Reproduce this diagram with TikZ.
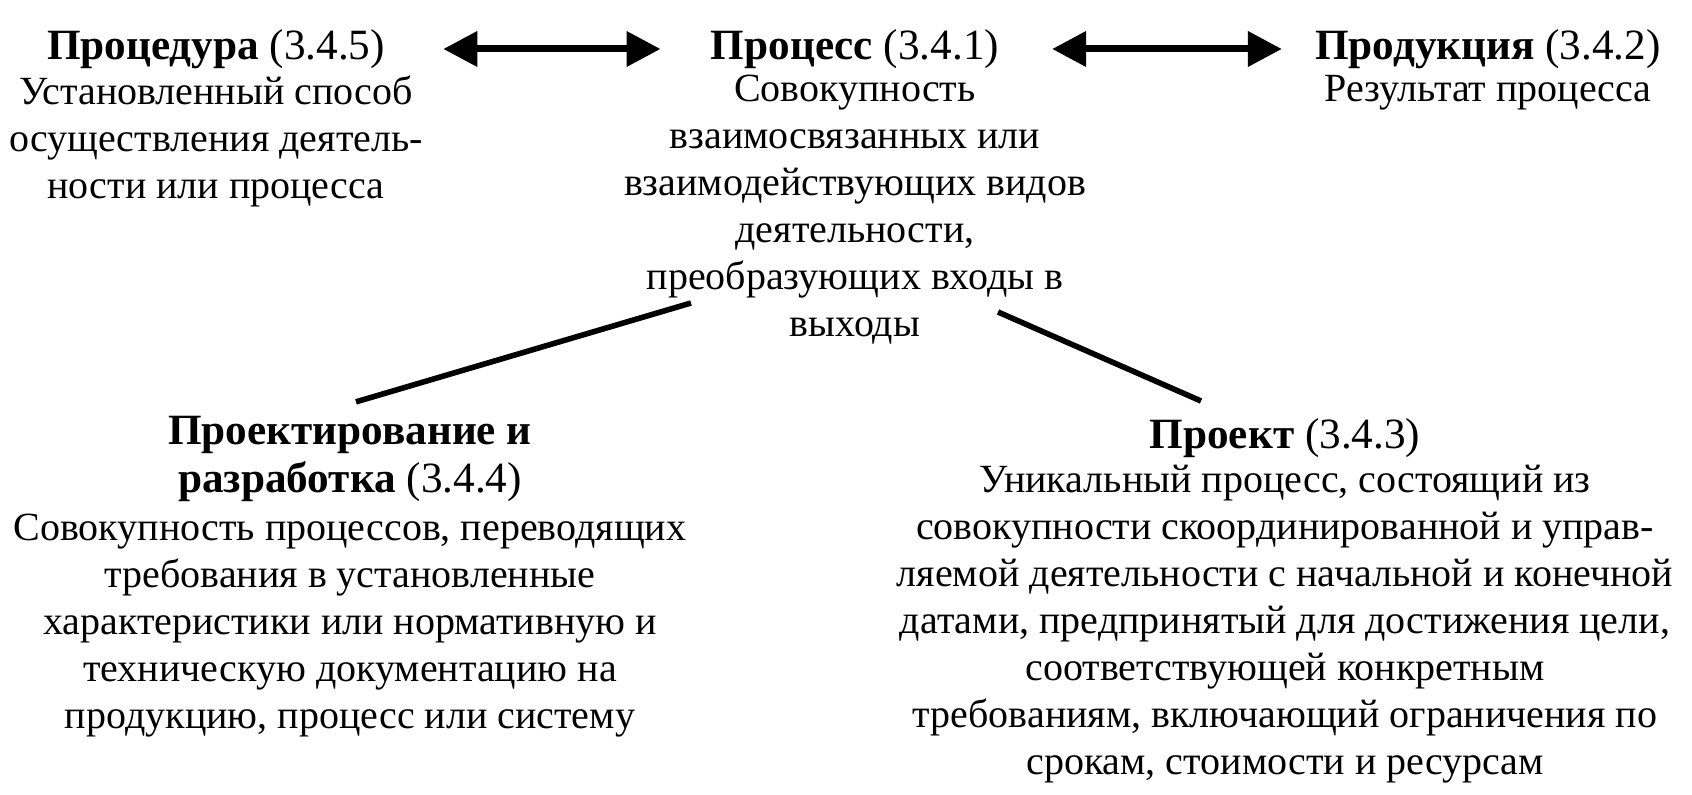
\documentclass[tikz,border=0pt]{standalone}
\usepackage{fontspec}
\setmainfont{Liberation Serif}
\usetikzlibrary{arrows.meta}

\begin{document}
\begin{tikzpicture}[
  x=0.5pt, y=-0.5pt,
  every node/.style={inner sep=0pt, align=center,
                     font=\fontsize{20}{23.5}\selectfont},
  term/.style={anchor=center, font=\fontsize{21.6}{24}\selectfont},
  defn/.style={anchor=north},
  both/.style={{Triangle[length=17pt,width=17pt]}-{Triangle[length=17pt,width=17pt]},
               line width=3.5pt},
  link/.style={line width=2.8pt}
]
\useasboundingbox (0,0) rectangle (1692,795);

%--- Top row ---
\node[term] (proct)    at (216,49)  {\textbf{Процедура} (3.4.5)};
\node[defn] (procb)    at (216,75)  {Установленный способ\\
                                     осуществления деятель-\\
                                     ности или процесса};

\node[term] (processt) at (855,49)  {\textbf{Процесс} (3.4.1)};
\node[defn] (processb) at (855,75)  {Совокупность\\
                                     взаимосвязанных или\\
                                     взаимодействующих видов\\
                                     деятельности,\\
                                     преобразующих входы в\\
                                     выходы};

\node[term] (prodt)    at (1488,49) {\textbf{Продукция} (3.4.2)};
\node[defn] (prodb)    at (1488,75) {Результат процесса};

%--- Bottom row ---
\node[term] (designt)  at (350,459) {\textbf{Проектирование и}\\
                                     \textbf{разработка} (3.4.4)};
\node[defn] (designb)  at (350,514) {Совокупность процессов, переводящих\\
                                     требования в установленные\\
                                     характеристики или нормативную и\\
                                     техническую документацию на\\
                                     продукцию, процесс или систему};

\node[term] (projt)    at (1285,438) {\textbf{Проект} (3.4.3)};
\node[defn] (projb)    at (1285,465) {Уникальный процесс, состоящий из\\
                                      совокупности скоординированной и управ-\\
                                      ляемой деятельности с начальной и конечной\\
                                      датами, предпринятый для достижения цели,\\
                                      соответствующей конкретным\\
                                      требованиям, включающий ограничения по\\
                                      срокам, стоимости и ресурсам};

%--- Connectors ---
\draw[both, shorten <=29pt, shorten >=25pt] (proct) -- (processt);
\draw[both, shorten <=26.3pt, shorten >=16.5pt] (processt) -- (prodt);

\draw[link] ([shift={(-164,-42)}]processb.south) -- ([shift={(6,-14)}]designt.north);
\draw[link] ([shift={(143,-33)}]processb.south) -- ([shift={(-84,-17)}]projt.north);

\end{tikzpicture}
\end{document}
